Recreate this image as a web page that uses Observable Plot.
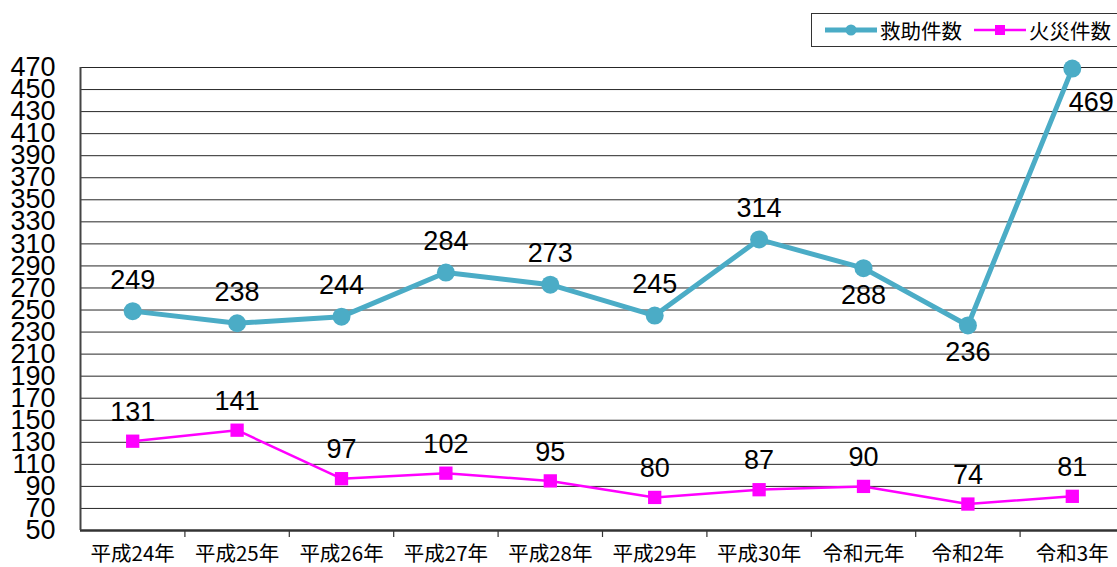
<!DOCTYPE html>
<html>
<head>
<meta charset="utf-8">
<script src="https://cdn.jsdelivr.net/npm/d3@7"></script>
<script src="https://cdn.jsdelivr.net/npm/@observablehq/plot@0.6"></script>
<style>
  html, body { margin: 0; padding: 0; background: #fff; overflow: hidden; }
  #wrap { position: relative; width: 1117px; height: 567px; overflow: hidden; }
  #legend {
    position: absolute; left: 811px; top: 13px; width: 330px; height: 32px;
    border: 1.5px solid #333; background: #fff; box-sizing: content-box;
    font-family: "Noto Sans CJK JP", sans-serif; font-size: 20.5px; color: #000;
    display: flex; align-items: center; white-space: nowrap;
  }
  #legend svg { display: block; }
  #legend .item { display: flex; align-items: center; }
</style>
</head>
<body>
<div id="wrap">
  <div id="chart"></div>
  <div id="legend"></div>
</div>
<script>
// ---- data ----
const categories = ["平成24年", "平成25年", "平成26年", "平成27年", "平成28年", "平成29年", "平成30年", "令和元年", "令和2年", "令和3年"];
const rescueCounts = [249, 238, 244, 284, 273, 245, 314, 288, 236, 469];
const fireCounts = [131, 141, 97, 102, 95, 80, 87, 90, 74, 81];
const yTickValues = [50, 70, 90, 110, 130, 150, 170, 190, 210, 230, 250, 270, 290, 310, 330, 350, 370, 390, 410, 430, 450, 470];
const seriesNames = ["救助件数", "火災件数"];

// ---- label placement (style, not data) ----
const rescuePlacement = ["above", "above", "above", "above", "above", "above", "above", "below", "below", "right"];

const rescueRows = categories.map((c, i) => ({i, v: rescueCounts[i], pos: rescuePlacement[i]}));
const fireRows = categories.map((c, i) => ({i, v: fireCounts[i]}));
const bounds = d3.range(0.5, categories.length - 0.5, 1);
const centers = d3.range(categories.length);

const numFont = "'Liberation Sans', Arial, sans-serif";
const cjkFont = "'Noto Sans CJK JP', sans-serif";
const teal = "#4BACC6";
const magenta = "#FF00FF";
const numSize = 27;

const chart = Plot.plot({
  width: 1117,
  height: 567,
  marginTop: 67,
  marginBottom: 37,
  marginLeft: 80,
  marginRight: 0,
  style: {background: "#fff", color: "#000", overflow: "visible"},
  x: {type: "linear", domain: [-0.5, categories.length - 0.5], range: [80, 1124], axis: null, label: null},
  y: {domain: [50, 470], axis: null, label: null},
  marks: [
    Plot.ruleY(yTickValues.filter(v => v > 50), {stroke: "#000", strokeWidth: 1, strokeOpacity: 0.85}),
    Plot.axisY(yTickValues, {tickSize: 0, tickPadding: 25, label: null, fontSize: numSize, fontFamily: numFont, fill: "#000"}),
    Plot.axisX(bounds, {tickSize: 7, label: null, tickFormat: () => "", stroke: "#333", strokeWidth: 1.2}),
    Plot.axisX(centers, {tickSize: 0, tickPadding: 16, label: null, tickFormat: i => categories[i], fontSize: 20.5, fontFamily: cjkFont, fill: "#000"}),
    Plot.ruleY([50], {stroke: "#333", strokeWidth: 2.5}),
    Plot.ruleX([-0.5], {stroke: "#444", strokeWidth: 2}),
    // fire series
    Plot.line(fireRows, {x: "i", y: "v", stroke: magenta, strokeWidth: 2.5}),
    Plot.dot(fireRows, {x: "i", y: "v", symbol: "square", r: 7.5, fill: magenta, stroke: "none"}),
    Plot.text(fireRows, {x: "i", y: "v", text: d => String(d.v), dy: -29, fontSize: numSize, fontFamily: numFont, fill: "#000"}),
    // rescue series
    Plot.line(rescueRows, {x: "i", y: "v", stroke: teal, strokeWidth: 5}),
    Plot.dot(rescueRows, {x: "i", y: "v", r: 9, fill: teal, stroke: "none"}),
    Plot.text(rescueRows.filter(d => d.pos === "above"), {x: "i", y: "v", text: d => String(d.v), dy: -31, fontSize: numSize, fontFamily: numFont, fill: "#000"}),
    Plot.text(rescueRows.filter(d => d.pos === "below"), {x: "i", y: "v", text: d => String(d.v), dy: 27, fontSize: numSize, fontFamily: numFont, fill: "#000"}),
    Plot.text(rescueRows.filter(d => d.pos === "right"), {x: "i", y: "v", text: d => String(d.v), dx: 19, dy: 34, fontSize: numSize, fontFamily: numFont, fill: "#000"})
  ]
});
document.getElementById("chart").appendChild(chart);

// ---- legend ----
const legend = document.getElementById("legend");
const items = [
  {name: seriesNames[0], color: teal, width: 5, shape: "circle"},
  {name: seriesNames[1], color: magenta, width: 2.5, shape: "square"}
];
items.forEach((it, k) => {
  const div = document.createElement("div");
  div.className = "item";
  div.style.marginLeft = k === 0 ? "13px" : "12px";
  const marker = it.shape === "circle"
    ? `<circle cx="26" cy="9" r="5.5" fill="${it.color}"/>`
    : `<rect x="21" y="4" width="10" height="10" fill="${it.color}"/>`;
  div.innerHTML = `<svg width="52" height="18"><line x1="0" x2="52" y1="9" y2="9" stroke="${it.color}" stroke-width="${it.width}"/>${marker}</svg><span style="margin-left:3px">${it.name}</span>`;
  legend.appendChild(div);
});
</script>
</body>
</html>
